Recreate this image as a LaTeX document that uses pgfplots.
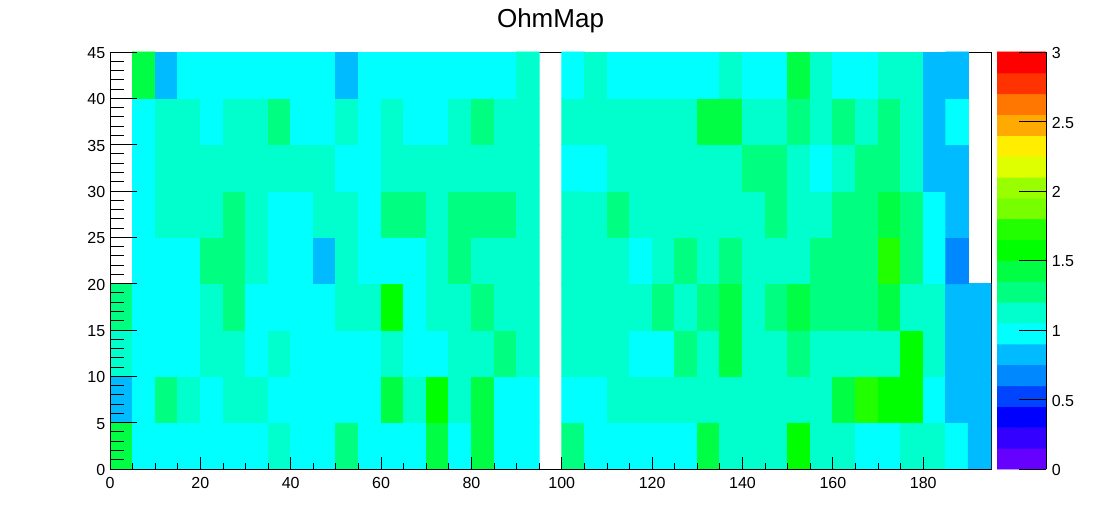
\documentclass[border=0pt]{standalone}
\usepackage{pgfplots}
\pgfplotsset{compat=1.18}
\usepackage{fontspec}
\setmainfont{Liberation Sans}
\pgfplotsset{
  colormap={rootpal}{
    rgb255=(102,0,255) rgb255=(51,0,255) rgb255=(0,0,255) rgb255=(0,68,255)
    rgb255=(0,136,255) rgb255=(0,187,255) rgb255=(0,255,255) rgb255=(0,255,204)
    rgb255=(0,255,128) rgb255=(0,255,68) rgb255=(0,255,0) rgb255=(34,255,0)
    rgb255=(119,255,0) rgb255=(153,255,0) rgb255=(221,255,0) rgb255=(255,238,0)
    rgb255=(255,170,0) rgb255=(255,119,0) rgb255=(255,51,0) rgb255=(255,0,0)
  },
  colormap access=piecewise constant,
  every axis/.append style={
    /pgf/number format/assume math mode=true,
    tick label style={font=\fontsize{16}{18}\selectfont},
    line width=0.9pt,
    tick style={black,line width=0.9pt},
    scale only axis,
    point meta min=0, point meta max=3
  }
}
\begin{document}
\begin{tikzpicture}
\path[use as bounding box] (0pt,0pt) rectangle (1102pt,522pt);
% frame, lying beneath the cells
\begin{axis}[
  at={(110pt,53pt)}, anchor=south west,
  width=881.6pt, height=416.5pt,
  xmin=0, xmax=195, ymin=0, ymax=45,
  xtick=\empty, ytick=\empty,
]
\end{axis}
% cells
\begin{axis}[
  at={(110pt,53pt)}, anchor=south west,
  width=881pt, height=417pt,
  xmin=0, xmax=195, ymin=0, ymax=45,
  hide axis,
]
% bins 0..18, rows 0..3
\addplot[matrix plot*, mesh/cols=19, point meta=explicit] coordinates {
(2.5,2.5)[1.42] (7.5,2.5)[0.98] (12.5,2.5)[0.98] (17.5,2.5)[0.98] (22.5,2.5)[0.98] (27.5,2.5)[0.98] (32.5,2.5)[0.98] (37.5,2.5)[1.12] (42.5,2.5)[0.98] (47.5,2.5)[0.98] (52.5,2.5)[1.28] (57.5,2.5)[0.98] (62.5,2.5)[0.98] (67.5,2.5)[0.98] (72.5,2.5)[1.42] (77.5,2.5)[0.98] (82.5,2.5)[1.42] (87.5,2.5)[0.98] (92.5,2.5)[0.98]
(2.5,7.5)[0.82] (7.5,7.5)[0.98] (12.5,7.5)[1.28] (17.5,7.5)[1.12] (22.5,7.5)[0.98] (27.5,7.5)[1.12] (32.5,7.5)[1.12] (37.5,7.5)[0.98] (42.5,7.5)[0.98] (47.5,7.5)[0.98] (52.5,7.5)[0.98] (57.5,7.5)[0.98] (62.5,7.5)[1.42] (67.5,7.5)[1.12] (72.5,7.5)[1.58] (77.5,7.5)[1.12] (82.5,7.5)[1.42] (87.5,7.5)[0.98] (92.5,7.5)[0.98]
(2.5,12.5)[1.12] (7.5,12.5)[0.98] (12.5,12.5)[0.98] (17.5,12.5)[0.98] (22.5,12.5)[1.12] (27.5,12.5)[1.12] (32.5,12.5)[0.98] (37.5,12.5)[1.12] (42.5,12.5)[0.98] (47.5,12.5)[0.98] (52.5,12.5)[0.98] (57.5,12.5)[0.98] (62.5,12.5)[1.12] (67.5,12.5)[0.98] (72.5,12.5)[0.98] (77.5,12.5)[1.12] (82.5,12.5)[1.12] (87.5,12.5)[1.28] (92.5,12.5)[1.12]
(2.5,17.5)[1.28] (7.5,17.5)[0.98] (12.5,17.5)[0.98] (17.5,17.5)[0.98] (22.5,17.5)[1.12] (27.5,17.5)[1.28] (32.5,17.5)[0.98] (37.5,17.5)[0.98] (42.5,17.5)[0.98] (47.5,17.5)[0.98] (52.5,17.5)[1.12] (57.5,17.5)[1.12] (62.5,17.5)[1.58] (67.5,17.5)[0.98] (72.5,17.5)[1.12] (77.5,17.5)[1.12] (82.5,17.5)[1.28] (87.5,17.5)[1.12] (92.5,17.5)[1.12]
};
% bins 1..18, rows 4..8
\addplot[matrix plot*, mesh/cols=18, point meta=explicit] coordinates {
(7.5,22.5)[0.98] (12.5,22.5)[0.98] (17.5,22.5)[0.98] (22.5,22.5)[1.28] (27.5,22.5)[1.28] (32.5,22.5)[1.12] (37.5,22.5)[0.98] (42.5,22.5)[0.98] (47.5,22.5)[0.82] (52.5,22.5)[1.12] (57.5,22.5)[0.98] (62.5,22.5)[0.98] (67.5,22.5)[0.98] (72.5,22.5)[1.12] (77.5,22.5)[1.28] (82.5,22.5)[1.12] (87.5,22.5)[1.12] (92.5,22.5)[1.12]
(7.5,27.5)[0.98] (12.5,27.5)[1.12] (17.5,27.5)[1.12] (22.5,27.5)[1.12] (27.5,27.5)[1.28] (32.5,27.5)[1.12] (37.5,27.5)[0.98] (42.5,27.5)[0.98] (47.5,27.5)[1.12] (52.5,27.5)[1.12] (57.5,27.5)[0.98] (62.5,27.5)[1.28] (67.5,27.5)[1.28] (72.5,27.5)[1.12] (77.5,27.5)[1.28] (82.5,27.5)[1.28] (87.5,27.5)[1.28] (92.5,27.5)[1.12]
(7.5,32.5)[0.98] (12.5,32.5)[1.12] (17.5,32.5)[1.12] (22.5,32.5)[1.12] (27.5,32.5)[1.12] (32.5,32.5)[1.12] (37.5,32.5)[1.12] (42.5,32.5)[1.12] (47.5,32.5)[1.12] (52.5,32.5)[0.98] (57.5,32.5)[0.98] (62.5,32.5)[1.12] (67.5,32.5)[1.12] (72.5,32.5)[1.12] (77.5,32.5)[1.12] (82.5,32.5)[1.12] (87.5,32.5)[1.12] (92.5,32.5)[1.12]
(7.5,37.5)[0.98] (12.5,37.5)[1.12] (17.5,37.5)[1.12] (22.5,37.5)[0.98] (27.5,37.5)[1.12] (32.5,37.5)[1.12] (37.5,37.5)[1.28] (42.5,37.5)[0.98] (47.5,37.5)[0.98] (52.5,37.5)[1.12] (57.5,37.5)[0.98] (62.5,37.5)[1.12] (67.5,37.5)[0.98] (72.5,37.5)[0.98] (77.5,37.5)[1.12] (82.5,37.5)[1.28] (87.5,37.5)[1.12] (92.5,37.5)[1.12]
(7.5,42.5)[1.42] (12.5,42.5)[0.82] (17.5,42.5)[0.98] (22.5,42.5)[0.98] (27.5,42.5)[0.98] (32.5,42.5)[0.98] (37.5,42.5)[0.98] (42.5,42.5)[0.98] (47.5,42.5)[0.98] (52.5,42.5)[0.82] (57.5,42.5)[0.98] (62.5,42.5)[0.98] (67.5,42.5)[0.98] (72.5,42.5)[0.98] (77.5,42.5)[0.98] (82.5,42.5)[0.98] (87.5,42.5)[0.98] (92.5,42.5)[1.12]
};
% bins 20..38, rows 0..3
\addplot[matrix plot*, mesh/cols=19, point meta=explicit] coordinates {
(102.5,2.5)[1.28] (107.5,2.5)[0.98] (112.5,2.5)[0.98] (117.5,2.5)[0.98] (122.5,2.5)[0.98] (127.5,2.5)[0.98] (132.5,2.5)[1.42] (137.5,2.5)[1.12] (142.5,2.5)[1.12] (147.5,2.5)[1.12] (152.5,2.5)[1.58] (157.5,2.5)[1.12] (162.5,2.5)[1.12] (167.5,2.5)[0.98] (172.5,2.5)[0.98] (177.5,2.5)[1.12] (182.5,2.5)[1.12] (187.5,2.5)[0.98] (192.5,2.5)[0.82]
(102.5,7.5)[0.98] (107.5,7.5)[0.98] (112.5,7.5)[1.12] (117.5,7.5)[1.12] (122.5,7.5)[1.12] (127.5,7.5)[1.12] (132.5,7.5)[1.12] (137.5,7.5)[1.12] (142.5,7.5)[1.12] (147.5,7.5)[1.12] (152.5,7.5)[1.12] (157.5,7.5)[1.12] (162.5,7.5)[1.42] (167.5,7.5)[1.72] (172.5,7.5)[1.58] (177.5,7.5)[1.58] (182.5,7.5)[0.98] (187.5,7.5)[0.82] (192.5,7.5)[0.82]
(102.5,12.5)[1.12] (107.5,12.5)[1.12] (112.5,12.5)[1.12] (117.5,12.5)[0.98] (122.5,12.5)[0.98] (127.5,12.5)[1.28] (132.5,12.5)[1.12] (137.5,12.5)[1.42] (142.5,12.5)[1.12] (147.5,12.5)[1.12] (152.5,12.5)[1.28] (157.5,12.5)[1.12] (162.5,12.5)[1.12] (167.5,12.5)[1.12] (172.5,12.5)[1.12] (177.5,12.5)[1.58] (182.5,12.5)[1.12] (187.5,12.5)[0.82] (192.5,12.5)[0.82]
(102.5,17.5)[1.12] (107.5,17.5)[1.12] (112.5,17.5)[1.12] (117.5,17.5)[1.12] (122.5,17.5)[1.28] (127.5,17.5)[1.12] (132.5,17.5)[1.28] (137.5,17.5)[1.42] (142.5,17.5)[1.12] (147.5,17.5)[1.28] (152.5,17.5)[1.42] (157.5,17.5)[1.28] (162.5,17.5)[1.28] (167.5,17.5)[1.28] (172.5,17.5)[1.42] (177.5,17.5)[1.12] (182.5,17.5)[1.12] (187.5,17.5)[0.82] (192.5,17.5)[0.82]
};
% bins 20..37, rows 4..8
\addplot[matrix plot*, mesh/cols=18, point meta=explicit] coordinates {
(102.5,22.5)[1.12] (107.5,22.5)[1.12] (112.5,22.5)[1.12] (117.5,22.5)[0.98] (122.5,22.5)[1.12] (127.5,22.5)[1.28] (132.5,22.5)[1.12] (137.5,22.5)[1.28] (142.5,22.5)[1.12] (147.5,22.5)[1.12] (152.5,22.5)[1.12] (157.5,22.5)[1.28] (162.5,22.5)[1.28] (167.5,22.5)[1.28] (172.5,22.5)[1.72] (177.5,22.5)[1.28] (182.5,22.5)[0.98] (187.5,22.5)[0.68]
(102.5,27.5)[1.12] (107.5,27.5)[1.12] (112.5,27.5)[1.28] (117.5,27.5)[1.12] (122.5,27.5)[1.12] (127.5,27.5)[1.12] (132.5,27.5)[1.12] (137.5,27.5)[1.12] (142.5,27.5)[1.12] (147.5,27.5)[1.28] (152.5,27.5)[1.12] (157.5,27.5)[1.12] (162.5,27.5)[1.28] (167.5,27.5)[1.28] (172.5,27.5)[1.42] (177.5,27.5)[1.28] (182.5,27.5)[0.98] (187.5,27.5)[0.82]
(102.5,32.5)[0.98] (107.5,32.5)[0.98] (112.5,32.5)[1.12] (117.5,32.5)[1.12] (122.5,32.5)[1.12] (127.5,32.5)[1.12] (132.5,32.5)[1.12] (137.5,32.5)[1.12] (142.5,32.5)[1.28] (147.5,32.5)[1.28] (152.5,32.5)[1.12] (157.5,32.5)[0.98] (162.5,32.5)[1.12] (167.5,32.5)[1.28] (172.5,32.5)[1.28] (177.5,32.5)[1.12] (182.5,32.5)[0.82] (187.5,32.5)[0.82]
(102.5,37.5)[1.12] (107.5,37.5)[1.12] (112.5,37.5)[1.12] (117.5,37.5)[1.12] (122.5,37.5)[1.12] (127.5,37.5)[1.12] (132.5,37.5)[1.42] (137.5,37.5)[1.42] (142.5,37.5)[1.12] (147.5,37.5)[1.12] (152.5,37.5)[1.28] (157.5,37.5)[1.12] (162.5,37.5)[1.28] (167.5,37.5)[1.12] (172.5,37.5)[1.28] (177.5,37.5)[1.12] (182.5,37.5)[0.82] (187.5,37.5)[0.98]
(102.5,42.5)[0.98] (107.5,42.5)[1.12] (112.5,42.5)[0.98] (117.5,42.5)[0.98] (122.5,42.5)[0.98] (127.5,42.5)[0.98] (132.5,42.5)[0.98] (137.5,42.5)[1.12] (142.5,42.5)[0.98] (147.5,42.5)[0.98] (152.5,42.5)[1.42] (157.5,42.5)[1.12] (162.5,42.5)[0.98] (167.5,42.5)[0.98] (172.5,42.5)[1.12] (177.5,42.5)[1.12] (182.5,42.5)[0.82] (187.5,42.5)[0.82]
};
\end{axis}
% left and bottom axes with ticks, over the cells
\begin{axis}[
  at={(110pt,53pt)}, anchor=south west,
  width=881pt, height=417pt,
  xmin=0, xmax=195, ymin=0, ymax=45,
  axis x line=bottom, axis y line=left,
  axis line style={-},
  xtick={0,20,...,180}, ytick={0,5,...,45},
  minor x tick num=3, minor y tick num=4,
  tick align=inside,
  xtick style={/pgfplots/major tick length=12pt, /pgfplots/minor tick length=6pt},
  ytick style={/pgfplots/major tick length=27pt, /pgfplots/minor tick length=14pt},
  xticklabel style={yshift=-5pt},
  yticklabel style={xshift=-1pt, yshift=-1pt},
  title={OhmMap},
  title style={font=\fontsize{26}{30}\selectfont, at={(0.5,1)}, anchor=base, yshift=18.5pt},
]
\end{axis}
\begin{axis}[
  at={(997pt,53pt)}, anchor=south west,
  width=49pt, height=417pt,
  xmin=0, xmax=1, ymin=0, ymax=3,
  axis y line=right, axis x line=none,
  axis line style={-},
  ytick={0,0.5,...,3},
  tick align=inside,
  major tick length=27pt,
  axis on top=true,
  yticklabel style={xshift=2pt, yshift=-1pt},
  enlargelimits=false,
]
\addplot[matrix plot*, mesh/cols=2, point meta=explicit] coordinates {
(0.25,0.075)[0.075] (0.75,0.075)[0.075]
(0.25,0.225)[0.225] (0.75,0.225)[0.225]
(0.25,0.375)[0.375] (0.75,0.375)[0.375]
(0.25,0.525)[0.525] (0.75,0.525)[0.525]
(0.25,0.675)[0.675] (0.75,0.675)[0.675]
(0.25,0.825)[0.825] (0.75,0.825)[0.825]
(0.25,0.975)[0.975] (0.75,0.975)[0.975]
(0.25,1.125)[1.125] (0.75,1.125)[1.125]
(0.25,1.275)[1.275] (0.75,1.275)[1.275]
(0.25,1.425)[1.425] (0.75,1.425)[1.425]
(0.25,1.575)[1.575] (0.75,1.575)[1.575]
(0.25,1.725)[1.725] (0.75,1.725)[1.725]
(0.25,1.875)[1.875] (0.75,1.875)[1.875]
(0.25,2.025)[2.025] (0.75,2.025)[2.025]
(0.25,2.175)[2.175] (0.75,2.175)[2.175]
(0.25,2.325)[2.325] (0.75,2.325)[2.325]
(0.25,2.475)[2.475] (0.75,2.475)[2.475]
(0.25,2.625)[2.625] (0.75,2.625)[2.625]
(0.25,2.775)[2.775] (0.75,2.775)[2.775]
(0.25,2.925)[2.925] (0.75,2.925)[2.925]
};
\end{axis}
\end{tikzpicture}
\end{document}
